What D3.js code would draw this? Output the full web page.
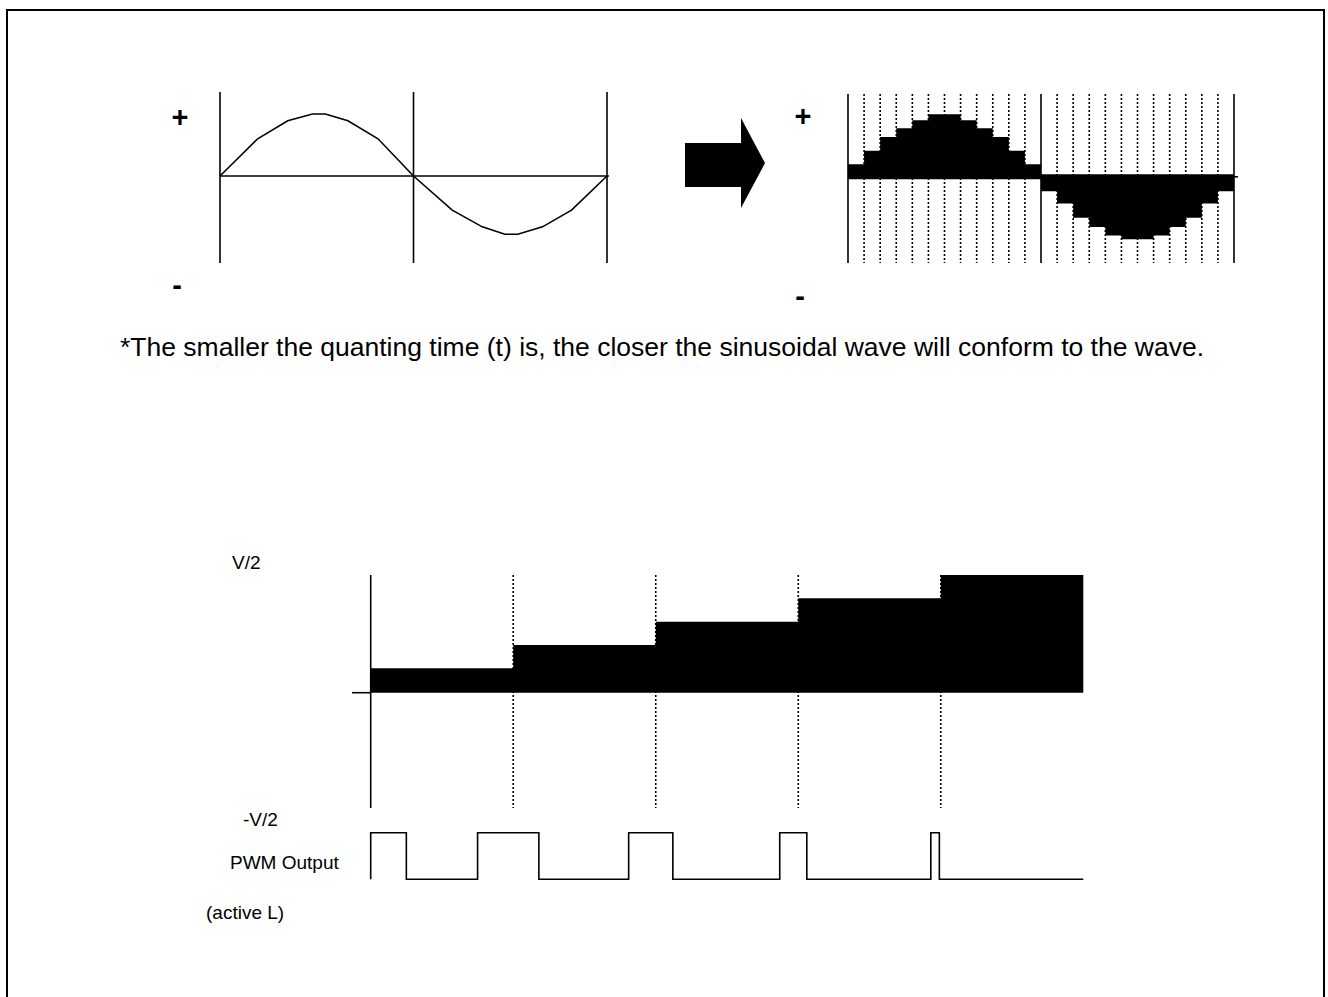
<!doctype html>
<html lang="en">
	<head>
		<meta charset="UTF-8" />
		<title>Sine quantization and PWM output</title>
		<script src="https://d3js.org/d3.v7.min.js"></script>
		<style>
			body {
				margin: 0;
				background: #fff;
			}
			svg text {
				font-family: 'Liberation Sans', Arial, sans-serif;
				fill: #000;
			}
			.frame {
				fill: none;
				stroke: #000;
				stroke-width: 2px;
			}
			.solid {
				stroke: #000;
				stroke-width: 1.6px;
				fill: none;
			}
			.dot {
				stroke: #000;
				stroke-width: 1.6px;
				stroke-dasharray: 2, 2;
			}
		</style>
	</head>
	<body>
		<svg width="1328" height="997"></svg>
		<script>
			// sine wave (phase in degrees, value in amplitude units)
			const sinePhase = [0, 35, 63, 86, 98, 119, 147, 180, 216, 244, 265, 277, 300, 327, 360]
			const sineValue = [0, 0.6, 0.89, 1.0, 1.0, 0.89, 0.6, 0, -0.55, -0.82, -0.94, -0.94, -0.82, -0.55, 0]

			// quantized wave: 24 time slots, one level per slot
			const quantLevels = [
				0.23, 0.44, 0.65, 0.785, 0.91, 1.0, 1.0, 0.91, 0.785, 0.65, 0.44, 0.23,
				-0.26, -0.45, -0.67, -0.81, -0.94, -1.0, -1.0, -0.94, -0.81, -0.67, -0.45, -0.26
			]

			// staircase (in units of V/2) and PWM pulse edges (in step units)
			const stepLevels = [0.207, 0.405, 0.603, 0.802, 1.0]
			const pwmRise = [0, 0.75, 1.81, 2.87, 3.93]
			const pwmFall = [0.25, 1.18, 2.12, 3.06, 3.99]

			const caption =
				'*The smaller the quanting time (t) is, the closer the sinusoidal wave will conform to the wave.'
			const svg = d3.select('svg')

			svg.append('rect')
				.attr('class', 'frame')
				.attr('x', 7)
				.attr('y', 10)
				.attr('width', 1317)
				.attr('height', 1100)

			// ---- top left: sine wave
			const xSine = d3.scaleLinear().domain([0, 360]).range([220, 607])
			const ySine = d3.scaleLinear().domain([-1, 1]).range([238, 114])

			const sineG = svg.append('g')
			sineG.selectAll('line.vert')
				.data([0, 180, 360])
				.join('line')
				.attr('class', 'solid')
				.attr('x1', (d) => xSine(d))
				.attr('x2', (d) => xSine(d))
				.attr('y1', 92)
				.attr('y2', 263)
			sineG.append('line')
				.attr('class', 'solid')
				.attr('x1', xSine(0))
				.attr('x2', xSine(360) + 2)
				.attr('y1', ySine(0))
				.attr('y2', ySine(0))
			sineG.append('path')
				.attr('class', 'solid')
				.attr(
					'd',
					d3.line()(sinePhase.map((p, i) => [xSine(p), ySine(sineValue[i])]))
				)

			const signLabel = (x, y, t) =>
				svg.append('text')
					.attr('x', x)
					.attr('y', y)
					.attr('text-anchor', 'middle')
					.attr('dominant-baseline', 'central')
					.attr('font-size', 29)
					.attr('font-weight', 'bold')
					.text(t)
			signLabel(180, 117, '+')
			signLabel(177, 285, '-')
			signLabel(803, 116, '+')
			signLabel(800, 296, '-')

			// ---- arrow
			svg.append('path')
				.attr('d', 'M685,143 H741 V118 L765,163 L741,208 V187 H685 Z')
				.attr('fill', '#000')

			// ---- top right: quantized wave
			const slots = quantLevels.length
			const half = slots / 2
			const xQ = d3.scaleLinear().domain([0, slots]).range([848, 1234])
			const yQ = d3.scaleLinear().domain([-1, 1]).range([241.8, 111.8])
			const band = 2.5
			const qG = svg.append('g')

			qG.selectAll('line.dot')
				.data(d3.range(1, slots).filter((k) => k !== half))
				.join('line')
				.attr('class', 'dot')
				.attr('x1', (d) => xQ(d))
				.attr('x2', (d) => xQ(d))
				.attr('y1', 94)
				.attr('y2', 263)

			// one stepped area per half wave
			const halves = [
				quantLevels.slice(0, half).map((v, i) => ({ i, v })),
				quantLevels.slice(half).map((v, i) => ({ i: i + half, v }))
			]
			const qArea = d3
				.area()
				.curve(d3.curveStepAfter)
				.x((d) => xQ(d.i))
				.y0((d) => (d.v >= 0 ? yQ(0) + band : yQ(0) - band))
				.y1((d) => (d.v >= 0 ? yQ(d.v) + band : yQ(d.v) - band))
			qG.selectAll('path.q')
				.data(halves.map((h) => h.concat([{ i: h[h.length - 1].i + 1, v: h[h.length - 1].v }])))
				.join('path')
				.attr('class', 'q')
				.attr('d', qArea)
				.attr('fill', '#000')

			qG.selectAll('line.vert')
				.data([0, half, slots])
				.join('line')
				.attr('class', 'solid')
				.attr('x1', (d) => xQ(d))
				.attr('x2', (d) => xQ(d))
				.attr('y1', 94)
				.attr('y2', 263)
			qG.append('line')
				.attr('class', 'solid')
				.attr('x1', xQ(slots))
				.attr('x2', xQ(slots) + 4)
				.attr('y1', yQ(0))
				.attr('y2', yQ(0))

			svg.append('text')
				.attr('x', 120)
				.attr('y', 356)
				.attr('font-size', 26.5)
				.text(caption)

			// ---- bottom: staircase
			const nSteps = stepLevels.length
			const xS = d3.scaleLinear().domain([0, nSteps]).range([370.7, 1083.3])
			const yS = d3.scaleLinear().domain([-1, 1]).range([810.4, 575])
			const sG = svg.append('g')

			sG.selectAll('line.dot')
				.data(d3.range(1, nSteps))
				.join('line')
				.attr('class', 'dot')
				.attr('x1', (d) => xS(d))
				.attr('x2', (d) => xS(d))
				.attr('y1', yS(1))
				.attr('y2', 808)

			const stepPts = stepLevels.map((v, i) => ({ i, v }))
			stepPts.push({ i: nSteps, v: stepLevels[nSteps - 1] })
			sG.append('path')
				.attr(
					'd',
					d3
						.area()
						.curve(d3.curveStepAfter)
						.x((d) => xS(d.i))
						.y0(yS(0))
						.y1((d) => yS(d.v))(stepPts)
				)
				.attr('fill', '#000')

			sG.append('line')
				.attr('class', 'solid')
				.attr('x1', xS(0))
				.attr('x2', xS(0))
				.attr('y1', yS(1))
				.attr('y2', 808)
			sG.append('line')
				.attr('class', 'solid')
				.attr('x1', 352)
				.attr('x2', xS(0))
				.attr('y1', yS(0))
				.attr('y2', yS(0))

			// ---- PWM output
			const yP = d3.scaleLinear().domain([0, 1]).range([879.3, 832.7])
			const pwmPts = [[xS(0), yP(0)]]
			pwmRise.forEach((r, i) => {
				pwmPts.push([xS(r), yP(0)], [xS(r), yP(1)], [xS(pwmFall[i]), yP(1)], [xS(pwmFall[i]), yP(0)])
			})
			pwmPts.push([xS(nSteps), yP(0)])
			svg.append('path').attr('class', 'solid').attr('d', d3.line()(pwmPts))

			const label = (x, y, t) =>
				svg.append('text').attr('x', x).attr('y', y).attr('font-size', 19).text(t)
			label(232, 569, 'V/2')
			label(243, 826, '-V/2')
			label(230, 869, 'PWM Output')
			label(206, 919, '(active L)')
		</script>
	</body>
</html>
